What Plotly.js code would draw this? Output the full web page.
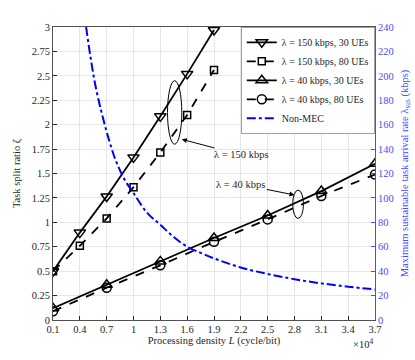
<!DOCTYPE html>
<html>
<head>
<meta charset="utf-8">
<script src="https://cdn.plot.ly/plotly-3.0.1.min.js"></script>
<style>
  html, body { margin: 0; padding: 0; background: #fff; }
  #chart { width: 415px; height: 360px; }
</style>
</head>
<body>
<div id="chart"></div>
<script>
// processing density L (x 10^4 cycle/bit)
const densityHigh = [0.1, 0.4, 0.7, 1.0, 1.3, 1.6, 1.9];
const densityLow = [0.1, 0.7, 1.3, 1.9, 2.5, 3.1, 3.7];

// task split ratio
const ratio150x30 = [0.5, 0.895, 1.265, 1.665, 2.085, 2.52, 2.97];
const ratio150x80 = [0.5, 0.76, 1.04, 1.36, 1.715, 2.1, 2.56];
const ratio40x30 = [0.12, 0.36, 0.6, 0.84, 1.07, 1.32, 1.6];
const ratio40x80 = [0.09, 0.33, 0.56, 0.8, 1.03, 1.27, 1.49];

// Non-MEC max sustainable arrival rate (kbps)
const densityNonMec = [0.47, 0.52, 0.58, 0.65, 0.72, 0.8, 0.9, 1.0, 1.15, 1.3, 1.45, 1.6, 1.75, 1.9, 2.2, 2.5, 2.8, 3.1, 3.4, 3.7];
const rateNonMec = [240, 215, 190, 168, 149, 131, 115, 104, 88, 78, 68, 60, 55, 50.5, 43, 37.7, 33.4, 30, 27.3, 25];

const xTicks = [0.1, 0.4, 0.7, 1, 1.3, 1.6, 1.9, 2.2, 2.5, 2.8, 3.1, 3.4, 3.7];
const yTicks = [0, 0.25, 0.5, 0.75, 1, 1.25, 1.5, 1.75, 2, 2.25, 2.5, 2.75, 3];
const y2Ticks = [0, 20, 40, 60, 80, 100, 120, 140, 160, 180, 200, 220, 240];

const serif = 'Liberation Serif, Times New Roman, serif';
const blue = '#0000ff';
const axisBlue = '#4a4aff';

const traces = [
    { x: densityHigh, y: ratio150x30, mode: 'lines+markers', name: 'λ = 150 kbps, 30 UEs',
      line: { color: 'black', width: 1.8 },
      marker: { symbol: 'triangle-down-open', size: 10, color: 'black', line: { width: 1.5 } } },
    { x: densityHigh, y: ratio150x80, mode: 'lines+markers', name: 'λ = 150 kbps, 80 UEs',
      line: { color: 'black', width: 1.8, dash: 'dash' },
      marker: { symbol: 'square-open', size: 7, color: 'black', line: { width: 1.5 } } },
    { x: densityLow, y: ratio40x30, mode: 'lines+markers', name: 'λ = 40 kbps, 30 UEs',
      line: { color: 'black', width: 1.8 },
      marker: { symbol: 'triangle-up-open', size: 10, color: 'black', line: { width: 1.5 } } },
    { x: densityLow, y: ratio40x80, mode: 'lines+markers', name: 'λ = 40 kbps, 80 UEs',
      line: { color: 'black', width: 1.8, dash: 'dash' },
      marker: { symbol: 'circle-open', size: 9, color: 'black', line: { width: 1.5 } } },
    { x: densityNonMec, y: rateNonMec, mode: 'lines', name: 'Non-MEC', yaxis: 'y2',
      line: { color: blue, width: 2, dash: 'dashdot', shape: 'spline' } }
];

const layout = {
    width: 415,
    height: 360,
    margin: { l: 53, r: 40, t: 27, b: 40 },
    paper_bgcolor: 'white',
    plot_bgcolor: 'white',
    font: { family: serif, size: 10.5, color: '#262626' },
    showlegend: true,
    legend: {
        x: 1, y: 1, xanchor: 'right', yanchor: 'top',
        bgcolor: 'white', bordercolor: '#8a8a8a', borderwidth: 0.8,
        font: { family: serif, size: 10, color: '#262626' },
        itemwidth: 30, tracegroupgap: 0
    },
    xaxis: {
        range: [0.1, 3.7], tickvals: xTicks, ticktext: xTicks.map(String),
        ticks: 'inside', ticklen: 4, tickcolor: '#262626',
        showgrid: true, gridcolor: '#e6e6e6', zeroline: false,
        showline: true, linecolor: '#262626', linewidth: 0.8, mirror: true,
        title: { text: 'Processing density <i>L</i> (cycle/bit)', standoff: 2, font: { size: 10.5 } }
    },
    yaxis: {
        range: [0, 3], tickvals: yTicks, ticktext: yTicks.map(String),
        ticks: 'inside', ticklen: 4, tickcolor: '#262626',
        showgrid: true, gridcolor: '#e6e6e6', zeroline: false,
        showline: true, linecolor: '#262626', linewidth: 0.8,
        title: { text: 'Task split ratio ζ', standoff: 8, font: { size: 10.5 } }
    },
    yaxis2: {
        overlaying: 'y', side: 'right', range: [0, 240],
        tickvals: y2Ticks, ticktext: y2Ticks.map(String),
        ticks: 'inside', ticklen: 4, tickcolor: axisBlue,
        showgrid: false, zeroline: false,
        showline: true, linecolor: axisBlue, linewidth: 1,
        tickfont: { color: axisBlue },
        title: { text: 'Maximum sustainable task arrival rate λ<sub>sus</sub> (kbps)', standoff: 7,
                 font: { size: 10.5, color: axisBlue } }
    },
    shapes: [
        { type: 'circle', xref: 'x', yref: 'y', x0: 1.38, x1: 1.54, y0: 1.8, y1: 2.45,
          line: { color: 'black', width: 1 } },
        { type: 'circle', xref: 'x', yref: 'y', x0: 2.78, x1: 2.9, y0: 1.04, y1: 1.33,
          line: { color: 'black', width: 1 } }
    ],
    annotations: [
        { x: 1.54, y: 1.85, xref: 'x', yref: 'y', ax: 2.2, ay: 1.69, axref: 'x', ayref: 'y',
          text: 'λ = 150 kbps', showarrow: true, arrowhead: 2, arrowsize: 1, arrowwidth: 1,
          arrowcolor: 'black', font: { size: 10.5, color: '#262626' }, standoff: 0 },
        { x: 2.8, y: 1.28, xref: 'x', yref: 'y', ax: 2.2, ay: 1.39, axref: 'x', ayref: 'y',
          text: 'λ = 40 kbps', showarrow: true, arrowhead: 2, arrowsize: 1, arrowwidth: 1,
          arrowcolor: 'black', font: { size: 10.5, color: '#262626' }, standoff: 0 },
        { x: 1, y: -0.05, xref: 'paper', yref: 'paper', xanchor: 'right', yanchor: 'top',
          text: '×10<sup>4</sup>', showarrow: false, font: { size: 10.5, color: '#262626' } }
    ]
};

Plotly.newPlot('chart', traces, layout, { displayModeBar: false, staticPlot: true });
</script>
</body>
</html>
